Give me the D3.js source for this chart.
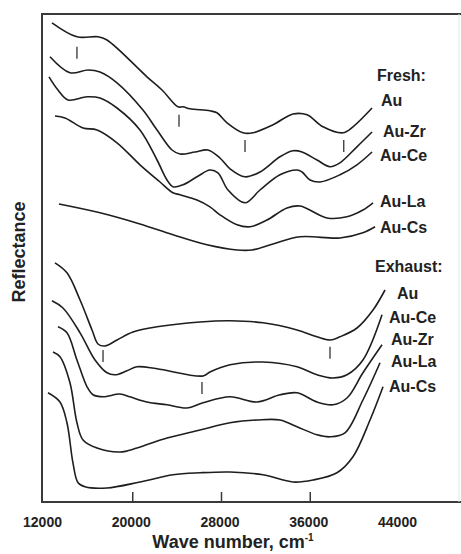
<!DOCTYPE html>
<html>
<head>
<meta charset="utf-8">
<script src="https://cdn.jsdelivr.net/npm/d3@7"></script>
<style>
  body { margin: 0; background: #fff; }
  svg text { font-family: "Liberation Sans", Arial, sans-serif; font-weight: bold; fill: #222; }
</style>
</head>
<body>
<div id="chart"></div>
<script>
// wave number (cm-1) and reflectance (offset, a.u.)
const xTicks = [12000, 20000, 28000, 36000, 44000];
const innerTicks = [20000, 28000, 36000];

const freshAu = [[12900,119.8],[15150,116.3],[17050,116.3],[17860,115.5],[21460,106.3],[22820,103],[24260,98.8],[24710,98.8],[25340,98.3],[27140,97.8],[27770,97.3],[28680,94.8],[30120,92.3],[31020,92.3],[32820,94.3],[34630,97],[35890,96.8],[37330,93.8],[39130,92.3],[40030,93.8],[41750,98.5]];
const freshAuZr = [[12720,111.3],[14520,107.3],[16150,108],[17230,107.5],[18760,104.8],[21100,98],[22370,93],[23720,88],[24440,87],[25790,87.5],[26960,88],[28040,86],[28950,83.3],[30300,81.3],[31650,82.5],[33450,86.3],[34630,87.8],[35440,87.5],[36790,85.5],[37960,83.8],[38860,84.8],[40390,88.8],[41750,92.5]];
const freshAuCe = [[12630,106.3],[13440,103],[14340,100.5],[16060,101.3],[17230,101],[18760,98.5],[20830,93],[22370,85.5],[23270,80.5],[23810,78.8],[24710,79.3],[25970,81.3],[27140,83],[27860,82.3],[28770,78],[30300,74.8],[31650,78],[33450,81.8],[34990,83],[35440,82.5],[36160,80.5],[37060,80],[38860,81.8],[40390,84.3],[41750,87.5]];
const freshAuLa = [[13170,96.5],[14070,96],[15700,93.5],[16960,93],[18760,89.8],[20830,84.3],[22640,80],[23810,77.3],[24440,76.8],[25970,75.5],[27140,73.8],[28040,71.8],[29580,69.3],[30750,68.8],[32280,70.5],[34080,73.5],[35260,74],[37690,71],[39490,71.3],[40930,73],[41840,74.8]];
const freshAuCs = [[13530,74.5],[17230,72.3],[20830,69.5],[23810,66.8],[26870,64.3],[29580,63],[30930,63],[32820,64.5],[35260,66.3],[38860,66],[40930,67.3],[42020,68.8]];

const exhaustAu = [[13170,59.8],[14250,57.3],[15430,50.5],[16510,43],[17050,39.5],[17680,39],[18760,40.5],[20200,42.5],[22370,43.8],[26240,45],[28950,45.3],[31920,44.8],[34990,43],[36790,41.3],[37960,40.5],[38860,41.3],[40390,43.5],[41840,48],[42920,53]];
const exhaustAuCe = [[12900,50.3],[13890,48.5],[15430,42.3],[16780,35.5],[17860,32.3],[18580,31.8],[19660,32.8],[20560,33.8],[22370,33.3],[26510,31.5],[27140,32.5],[28950,34.3],[31920,35],[34990,33.8],[36790,31.8],[38230,31],[39490,31.8],[40930,35.5],[42650,46.8]];
const exhaustAuZr = [[13440,43.8],[14250,42.3],[15150,35.5],[16060,28.8],[16600,26.8],[17500,26.3],[19030,27],[19930,26.3],[21460,25],[23270,24.3],[25070,23.5],[26510,24.8],[28950,26.3],[31380,25],[33450,26.8],[34990,27.3],[36790,25],[38230,24.3],[39490,26],[40930,32.3],[42650,39.3]];
const exhaustAuLa = [[12990,37.5],[13620,36.3],[14520,29.8],[15150,19.8],[15700,15.5],[16960,13.5],[19030,12.5],[20560,13.5],[23270,16],[26240,18],[28950,19.8],[31380,20.5],[33450,20.5],[34990,18.8],[36790,16.8],[37960,16.3],[39310,17.3],[40930,25.5],[42470,34.8]];
const exhaustAuCs = [[12540,27.3],[13620,25],[14250,19.8],[14790,9.8],[15250,4.8],[15880,3.8],[17860,3.5],[20830,5],[23810,6.8],[26240,7.3],[28950,7.5],[31920,6.8],[34630,5],[36430,5.5],[38590,7.3],[40030,11.3],[41570,20.5],[42740,28.8]];

const freshMarks = [15150, 24350, 30300, 39200];
const freshMarkTops = [113.8, 96.8, 90.5, 90.5];
const exhaustMarks = [17500, 26420, 37960];
const exhaustMarkTops = [38, 30, 38.8];

const series = [freshAu, freshAuZr, freshAuCe, freshAuLa, freshAuCs,
                exhaustAu, exhaustAuCe, exhaustAuZr, exhaustAuLa, exhaustAuCs];

const labels = [
  ["Fresh:", 377, 81], ["Au", 381, 106], ["Au-Zr", 383, 137], ["Au-Ce", 380, 161],
  ["Au-La", 380, 207], ["Au-Cs", 380, 233],
  ["Exhaust:", 375, 272], ["Au", 397, 299], ["Au-Ce", 389, 323], ["Au-Zr", 391, 345],
  ["Au-La", 391, 367], ["Au-Cs", 389, 392]
];

const width = 461, height = 554;
const x = d3.scaleLinear().domain([12000, 44000]).range([42, 397]);
const y = d3.scaleLinear().domain([0, 122]).range([502, 14]);

const svg = d3.select("#chart").append("svg")
  .attr("width", width).attr("height", height);

// frame
svg.append("path")
  .attr("d", "M461,14H42V502H461")
  .attr("fill", "none").attr("stroke", "#3a3a3a").attr("stroke-width", 2);
svg.append("line")
  .attr("x1", 459).attr("x2", 459).attr("y1", 14).attr("y2", 502)
  .attr("stroke", "#e4e4e4").attr("stroke-width", 1);

// x axis labels
const xAxis = svg.append("g")
  .attr("transform", "translate(0,502)")
  .call(d3.axisBottom(x).tickValues(xTicks).tickSize(0).tickPadding(15).tickFormat(d3.format("d")));
xAxis.select(".domain").remove();
xAxis.selectAll("text")
  .style("font-family", "'Liberation Sans', Arial, sans-serif")
  .style("font-weight", "bold").style("font-size", "14px").attr("fill", "#222");

svg.selectAll(".itick").data(innerTicks).enter().append("line")
  .attr("class", "itick")
  .attr("x1", d => x(d) + 2).attr("x2", d => x(d) + 2)
  .attr("y1", 502).attr("y2", 492)
  .attr("stroke", "#3a3a3a").attr("stroke-width", 1.5);

const line = d3.line()
  .x(d => x(d[0])).y(d => y(d[1]))
  .curve(d3.curveCatmullRom.alpha(0.5));

svg.selectAll(".spec").data(series).enter().append("path")
  .attr("class", "spec")
  .attr("d", line)
  .attr("fill", "none").attr("stroke", "#1e1e1e").attr("stroke-width", 1.6)
  .attr("stroke-linejoin", "round");

const marks = freshMarks.map((w, i) => [w, freshMarkTops[i]])
  .concat(exhaustMarks.map((w, i) => [w, exhaustMarkTops[i]]));
svg.selectAll(".mark").data(marks).enter().append("line")
  .attr("class", "mark")
  .attr("x1", d => x(d[0])).attr("x2", d => x(d[0]))
  .attr("y1", d => y(d[1])).attr("y2", d => y(d[1] - 3))
  .attr("stroke", "#333").attr("stroke-width", 1.3);

svg.selectAll(".lab").data(labels).enter().append("text")
  .attr("class", "lab")
  .attr("x", d => d[1]).attr("y", d => d[2])
  .style("font-size", "16px")
  .text(d => d[0]);

const xt = svg.append("text")
  .attr("x", 233).attr("y", 548)
  .attr("text-anchor", "middle")
  .style("font-size", "18px");
xt.append("tspan").text("Wave number, cm");
xt.append("tspan").attr("dy", -7).style("font-size", "10px").text("-1");

svg.append("text")
  .attr("transform", "translate(25,252) rotate(-90)")
  .attr("text-anchor", "middle")
  .style("font-size", "18px")
  .text("Reflectance");
</script>
</body>
</html>
